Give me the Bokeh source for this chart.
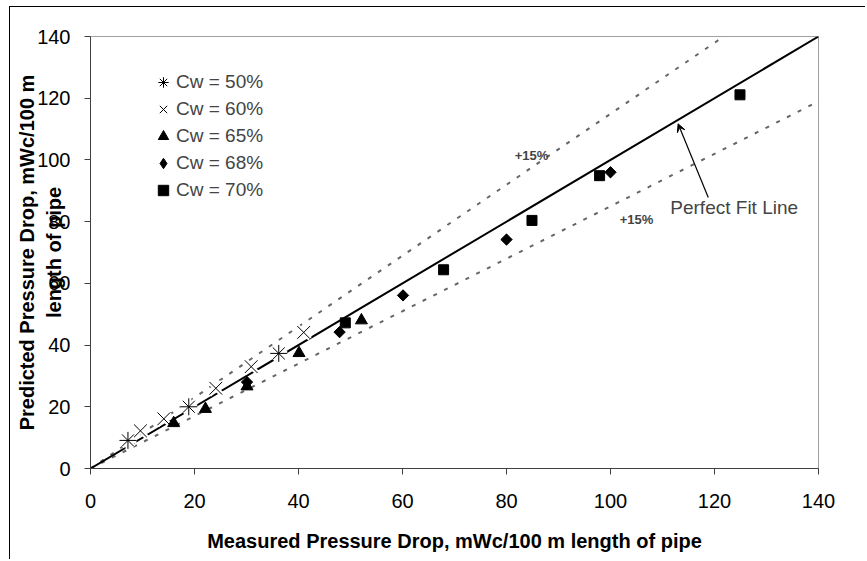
from bokeh.plotting import figure
from bokeh.models import Range1d, Legend, LegendItem, Label, Arrow, VeeHead, FixedTicker
from bokeh.embed import file_html
from bokeh.resources import INLINE

# ---- data ----
cw50_x = [7.2, 18.9, 36.2]
cw50_y = [9.1, 20.0, 37.3]
cw60_x = [9.6, 14.1, 24.1, 30.9, 41.0]
cw60_y = [12.2, 16.1, 26.0, 33.0, 44.1]
cw65_x = [16.0, 22.1, 30.1, 40.1, 52.1]
cw65_y = [14.7, 19.3, 26.6, 37.4, 48.0]
cw68_x = [30.1, 47.9, 60.1, 80.0, 100.0]
cw68_y = [28.0, 44.2, 56.1, 74.2, 96.0]
cw70_x = [49.0, 67.9, 84.9, 97.9, 124.9]
cw70_y = [47.2, 64.4, 80.4, 94.9, 121.1]

fit_x = [0, 141.5]
fit_y = [0, 141.5]
upper_x = [0, 122.3]
upper_y = [0, 140.6]
lower_x = [0, 140.5]
lower_y = [0, 119.4]

ticks = [0, 20, 40, 60, 80, 100, 120, 140]
series_labels = ["Cw = 50%", "Cw = 60%", "Cw = 65%", "Cw = 68%", "Cw = 70%"]

FONT = "Liberation Sans"

p = figure(width=856, height=553, x_range=Range1d(0, 140), y_range=Range1d(0, 140),
           output_backend="svg", toolbar_location=None,
           min_border_left=80, min_border_right=48, min_border_top=29, min_border_bottom=92)
p.styles = {"margin-left": "9px", "margin-top": "6px",
            "border-left": "1px solid black", "border-top": "1px solid black"}
p.grid.visible = False
p.outline_line_color = "#a0a0a0"
p.background_fill_color = "white"
p.border_fill_color = "white"

for ax in (p.xaxis[0], p.yaxis[0]):
    ax.ticker = FixedTicker(ticks=ticks)
    ax.major_label_text_font = FONT
    ax.major_label_text_font_size = "20px"
    ax.major_label_text_color = "black"
    ax.axis_label_text_font = FONT
    ax.axis_label_text_font_size = "20px"
    ax.axis_label_text_font_style = "bold"
    ax.axis_label_text_color = "black"
    ax.major_tick_in = 0
    ax.major_tick_out = 6
    ax.minor_tick_in = 0
    ax.minor_tick_out = 0
    ax.axis_line_color = "#404040"
    ax.major_tick_line_color = "#404040"

p.xaxis.axis_label = "Measured Pressure Drop, mWc/100 m length of pipe"
p.xaxis.major_label_standoff = 19
p.xaxis.axis_label_standoff = 19
p.yaxis.axis_label = "Predicted Pressure Drop, mWc/100 m\nlength of pipe"
p.yaxis.major_label_standoff = 14
p.yaxis.axis_label_standoff = -31
p.yaxis.axis_label_text_line_height = 1.25

# reference lines
p.line(upper_x, upper_y, line_color="#666666", line_width=2, line_dash="4 8")
p.line(lower_x, lower_y, line_color="#666666", line_width=2, line_dash="4 8")
p.line(fit_x, fit_y, line_color="black", line_width=2)

# white halos under the line-only markers
p.scatter(cw60_x, cw60_y, marker="x", size=18, line_color="white", line_width=5)
p.scatter(cw50_x, cw50_y, marker="asterisk", size=17, line_color="white", line_width=5)

r50 = p.scatter(cw50_x, cw50_y, marker="asterisk", size=17, line_color="black", line_width=1)
r60 = p.scatter(cw60_x, cw60_y, marker="x", size=18, line_color="black", line_width=1)
r65 = p.scatter(cw65_x, cw65_y, marker="triangle", size=12, fill_color="black", line_color="black")
# diamond used for the legend key, hidden beneath the rotated squares
r68 = p.scatter(cw68_x, cw68_y, marker="diamond", size=10, fill_color="black", line_color="black")
p.scatter(cw68_x, cw68_y, marker="square", angle=0.785398, size=8, fill_color="black", line_color="black")
r70 = p.scatter(cw70_x, cw70_y, marker="square", size=10, fill_color="black", line_color="black")

legend = Legend(items=[LegendItem(label=l, renderers=[r]) for l, r in
                       zip(series_labels, [r50, r60, r65, r68, r70])],
                location=(60, 265), glyph_width=26, glyph_height=26, label_height=26,
                spacing=1, padding=0, margin=0, label_standoff=0,
                border_line_color=None, background_fill_alpha=0,
                label_text_font=FONT, label_text_font_size="19px")
p.add_layout(legend)

p.add_layout(Label(x=84.8, y=101.4, text="+15%", text_font=FONT, text_font_size="13px",
                   text_font_style="bold", text_align="center", text_baseline="middle"))
p.add_layout(Label(x=105.0, y=80.7, text="+15%", text_font=FONT, text_font_size="13px",
                   text_font_style="bold", text_align="center", text_baseline="middle"))
p.add_layout(Label(x=111.5, y=84.6, text="Perfect Fit Line", text_font=FONT,
                   text_font_size="19px", text_align="left", text_baseline="middle"))
p.add_layout(Arrow(end=VeeHead(size=8, fill_color="black", line_color="black", line_width=1),
                   x_start=118.8, y_start=87.8, x_end=113.0, y_end=111.7,
                   line_color="black", line_width=1.2))

open("out.html", "w").write(file_html(p, INLINE))
